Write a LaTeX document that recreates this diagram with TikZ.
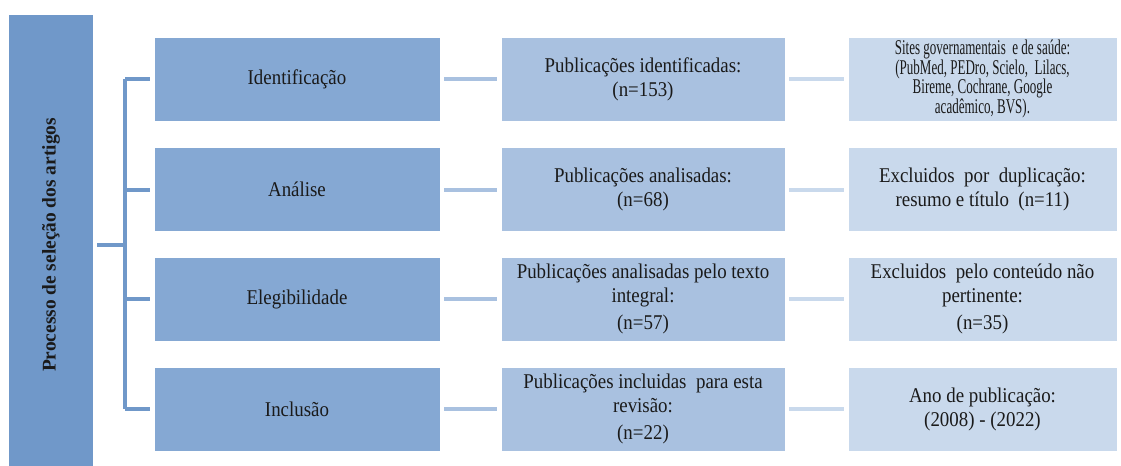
\documentclass[tikz,border=0pt]{standalone}
\usepackage{fontspec}
\setmainfont[FakeStretch=0.9]{Liberation Serif}
\newfontfamily\narrowfont[FakeStretch=0.62]{Liberation Serif}
\newfontfamily\titlefont{Liberation Serif}
\usepackage{xcolor}
\usepackage{tikz}
\usetikzlibrary{positioning}

\definecolor{barblue}{HTML}{7098C9}
\definecolor{phaseblue}{HTML}{85A8D3}
\definecolor{countblue}{HTML}{A9C1E0}
\definecolor{noteblue}{HTML}{C9D9EC}
\definecolor{inkgray}{HTML}{1A1A1A}

\begin{document}
\begin{tikzpicture}[x=0.5pt, y=-0.5pt,
            every node/.append style = {align = center, inner sep = 1pt, text = inkgray,
                font = \fontsize{10.5}{12}\selectfont},
            sidebar/.style = {fill = barblue, minimum width = 42pt, minimum height = 225.5pt},
            phase/.style = {fill = phaseblue, draw = white, line width = 0.4pt,
                minimum width = 143pt, minimum height = 42pt},
            count/.style = {fill = countblue, draw = white, line width = 0.4pt,
                minimum width = 142pt, minimum height = 42pt},
            note/.style = {fill = noteblue, draw = white, line width = 0.4pt,
                minimum width = 134.5pt, minimum height = 42pt},
            brace/.style = {draw = barblue, line width = 2pt},
            link/.style = {line width = 2pt, shorten <= 2pt, shorten >= 2pt}]
        \useasboundingbox (0,0) rectangle (1121,466);
        % left bar
        \node[sidebar] (bar) at (51,240.5) {};
        \node[rotate = 90, font = \fontsize{9.7}{11}\titlefont\bfseries] (title) at (51,245)
            {Processo de seleção dos artigos};
        % phases
        \node[phase] (ph1) at (297,79) {Identificação};
        \node[phase] (ph2) at (297,189.5) {Análise};
        \node[phase] (ph3) at (297,299) {Elegibilidade};
        \node[phase] (ph4) at (297,409) {Inclusão};
        % counts
        \node[count] (pb1) at (643,79) {Publicações identificadas:\\(n=153)};
        \node[count] (pb2) at (643,189.5) {Publicações analisadas:\\(n=68)};
        \node[count] (pb3) at (643,299) {Publicações analisadas pelo texto\\integral:\\[1.5pt](n=57)};
        \node[count] (pb4) at (643,409) {Publicações incluidas\ \ para esta\\revisão:\\[1.5pt](n=22)};
        % notes
        \node[note, font = \fontsize{10.5}{9.8}\narrowfont] (ex1) at (982.5,79)
            {Sites governamentais\ \ e de saúde:\\(PubMed, PEDro, Scielo,\ \ Lilacs,\\Bireme, Cochrane, Google\\acadêmico, BVS).};
        \node[note] (ex2) at (982.5,189.5) {Excluidos\ \ por\ \ duplicação:\\resumo e título\ \ (n=11)};
        \node[note] (ex3) at (982.5,299) {Excluidos\ \ pelo conteúdo não\\pertinente:\\[1.5pt](n=35)};
        \node[note] (ex4) at (982.5,409) {Ano de publicação:\\(2008) - (2022)};
        % bracket
        \coordinate (hub) at (125,244.5);
        \draw[brace, shorten <= 2pt] (bar.east |- hub) -- (hub);
        \draw[brace] (hub |- ph1) -- (hub |- ph4);
        \foreach \i in {1,...,4}
            \draw[brace, shorten >= 2pt] (hub |- ph\i) -- (ph\i);
        % connectors
        \foreach \i in {1,...,4} {
            \draw[link, countblue] (ph\i) -- (pb\i);
            \draw[link, noteblue] (pb\i) -- (ex\i);
        }
        \end{tikzpicture}
\end{document}
